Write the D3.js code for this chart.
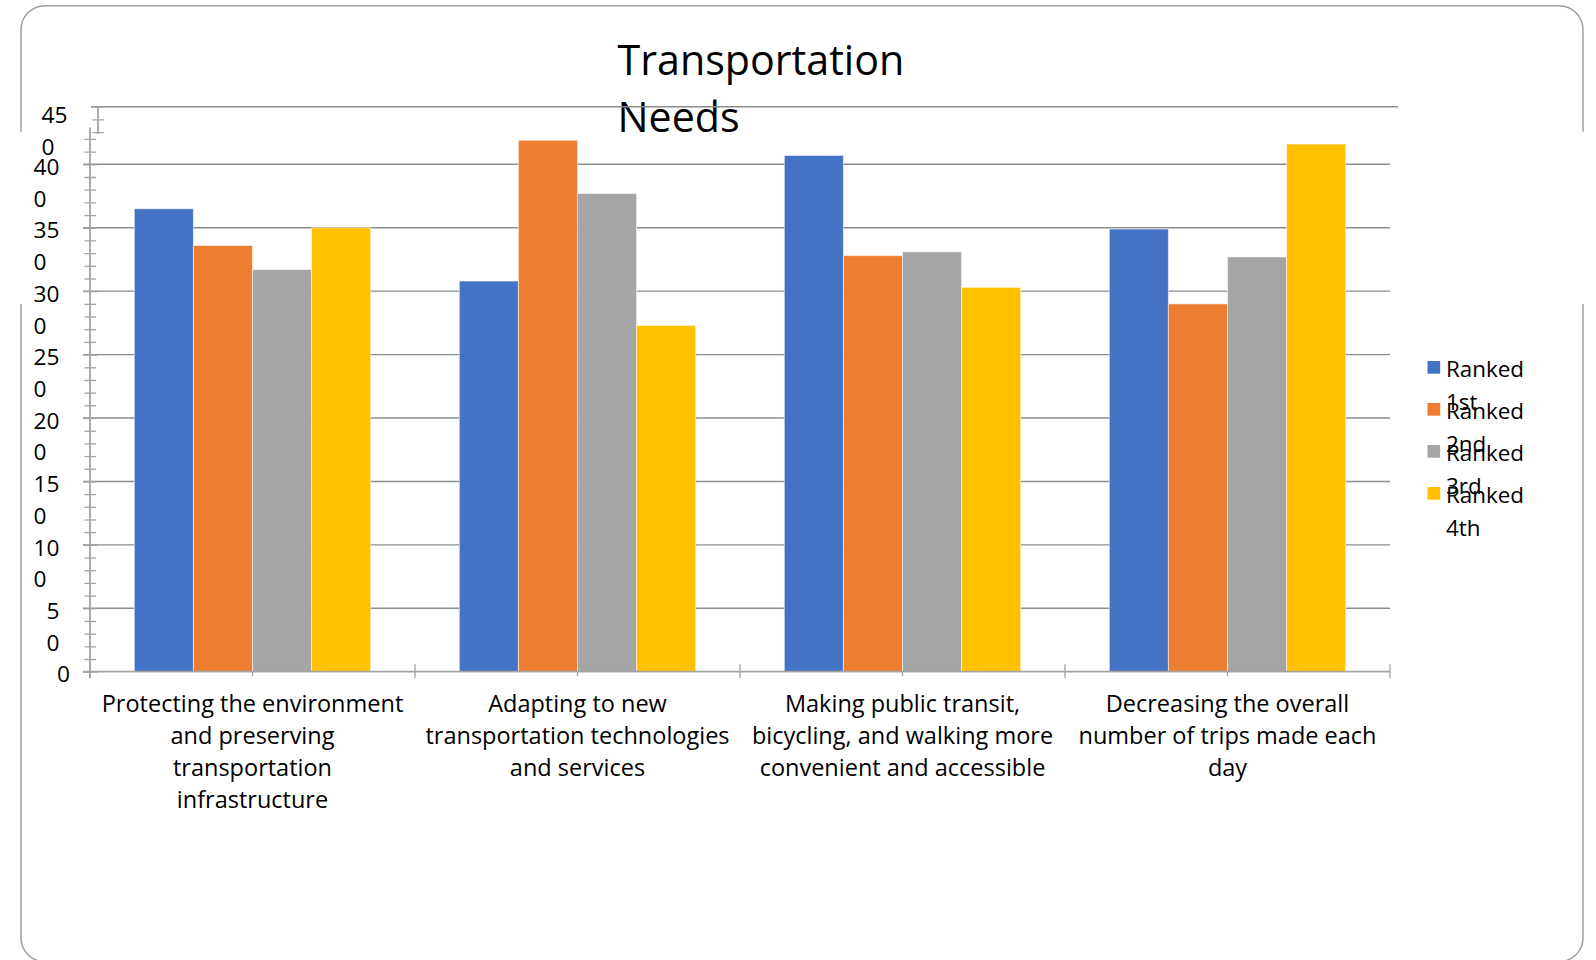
<!DOCTYPE html>
<html><head><meta charset="utf-8">
<script src="https://cdn.jsdelivr.net/npm/d3@7"></script>
<style>
html,body{margin:0;padding:0;background:#fff;}
svg{display:block;}
text{font-family:"Open Sans",sans-serif;fill:#000;}
</style>
</head><body>
<svg id="chart" width="1596" height="960"></svg>
<script>
// ---------- data ----------
const chartTitle = ["Transportation", "Needs"];
const categories = [
  "Protecting the environment\nand preserving\ntransportation\ninfrastructure",
  "Adapting to new\ntransportation technologies\nand services",
  "Making public transit,\nbicycling, and walking more\nconvenient and accessible",
  "Decreasing the overall\nnumber of trips made each\nday"
];
const seriesNames = ["Ranked 1st", "Ranked 2nd", "Ranked 3rd", "Ranked 4th"];
const ranked1st = [365, 308, 407, 349];
const ranked2nd = [336, 419, 328, 290];
const ranked3rd = [317, 377, 331, 327];
const ranked4th = [350, 273, 303, 416];
const yTickValues = [0, 50, 100, 150, 200, 250, 300, 350, 400, 450];
const yTickLabels = ["0", "50", "100", "150", "200", "250", "300", "350", "400", "450"];
const yMinorStep = 10;
const seriesColors = ["#4472C4", "#ED7D31", "#A5A5A5", "#FFC000"];

// ---------- layout ----------
const plot = {left: 90, right: 1390, top: 100.9, bottom: 671.7};
const gridColor = "#8c8c8c", axisColor = "#a3a3a3";
const topShift = {dx: 8, dy: 5.8};

const seriesValues = [ranked1st, ranked2nd, ranked3rd, ranked4th];
const table = categories.map((c, i) => ({
  category: c,
  values: seriesNames.map((s, j) => ({series: s, value: seriesValues[j][i], color: seriesColors[j]}))
}));
const maxV = d3.max(yTickValues);

const svg = d3.select("#chart");
const defs = svg.append("defs");
defs.append("clipPath").attr("id", "clipTop").append("path")
  .attr("d", "M0,0H1596V134H75V158H0Z");
defs.append("clipPath").attr("id", "clipMain").append("path")
  .attr("d", "M75,127.5H1596V960H0V158H75Z");
defs.append("clipPath").attr("id", "clipBorder").append("path")
  .attr("d", "M0,0H1596V131.7H0Z M0,304H1596V960H0Z");

const y = d3.scaleLinear().domain([0, maxV]).range([plot.bottom, plot.top]);
const x0 = d3.scaleBand().domain(categories).range([plot.left, plot.right]).paddingInner(0).paddingOuter(0);
const x1 = d3.scaleBand().domain(seriesNames).range([0, x0.bandwidth()]).paddingInner(0).paddingOuter(0.75);

// part: "top" = strip above the plot (title, top gridline, top of axis, top label); "main" = the rest
function drawChart(g, part) {
  const isTop = part === "top";

  if (isTop) {
    const t = g.append("text").attr("x", 609.5).attr("y", 69.2).style("font-size", "41.2px");
    chartTitle.forEach((line, i) => t.append("tspan").attr("x", 609.5).attr("dy", i ? 57 : 0).text(line));
  }

  // gridlines
  const gridVals = yTickValues.filter(v => v > 0 && (isTop ? v === maxV : v < maxV));
  g.append("g").selectAll("line").data(gridVals).join("line")
    .attr("x1", plot.left - 7).attr("x2", plot.right)
    .attr("y1", d => y(d)).attr("y2", d => y(d))
    .attr("stroke", gridColor).attr("stroke-width", 1.4);

  if (!isTop) {
    const groups = g.append("g").selectAll("g").data(table).join("g")
      .attr("transform", d => `translate(${x0(d.category)},0)`);
    groups.selectAll("rect").data(d => d.values).join("rect")
      .attr("x", d => x1(d.series)).attr("width", x1.bandwidth())
      .attr("y", d => y(d.value)).attr("height", d => y(0) - y(d.value))
      .attr("fill", d => d.color)
      .attr("stroke", "#ffffff").attr("stroke-opacity", 0.55).attr("stroke-width", 1);
  }

  // y axis (minor + major ticks crossing the axis)
  const minorVals = d3.range(0, maxV + 1, yMinorStep).filter(v => isTop ? v >= 420 : v <= 420);
  const ya = g.append("g").attr("transform", `translate(${plot.left},0)`)
    .call(d3.axisLeft(y).tickValues(minorVals).tickSizeOuter(0).tickFormat(""));
  ya.select(".domain").remove();
  ya.selectAll(".tick line")
    .attr("x1", d => yTickValues.includes(d) ? -7 : -5.5)
    .attr("x2", d => yTickValues.includes(d) ? 7 : 6)
    .attr("stroke", axisColor).attr("stroke-width", 1.3);
  ya.append("line").attr("x1", 0).attr("x2", 0)
    .attr("y1", isTop ? y(maxV) : y(430)).attr("y2", isTop ? y(415) : plot.bottom + 6.5)
    .attr("stroke", axisColor).attr("stroke-width", 1.8);

  // y tick labels (wrapped: last digit on a second line)
  yTickValues.forEach((v, i) => {
    if (isTop !== (v === maxV)) return;
    const label = yTickLabels[i];
    const lines = label.length > 1 ? [label.slice(0, -1), label.slice(-1)] : [label];
    const base = y(v) + (lines.length > 1 ? 10.7 : 10) + (v === maxV ? 5.7 : 0);
    const txt = g.append("text").style("font-size", "22.7px");
    const spans = lines.map((l, k) => txt.append("tspan").attr("y", base + k * 31.7).text(l));
    if (lines.length === 1) {
      txt.attr("text-anchor", "end"); spans[0].attr("x", 70);
    } else {
      const wMax = d3.max(spans, s => s.node().getComputedTextLength());
      spans.forEach(s => s.attr("x", 59.5 - wMax));
    }
  });

  if (isTop) return;

  // x axis
  const xa = g.append("g");
  xa.append("line").attr("x1", plot.left - 7).attr("x2", plot.right).attr("y1", y(0)).attr("y2", y(0))
    .attr("stroke", axisColor).attr("stroke-width", 1.8);
  const edges = categories.map(c => x0(c)).concat([plot.right]);
  xa.selectAll("line.edge").data(edges).join("line").attr("class", "edge")
    .attr("x1", d => d).attr("x2", d => d).attr("y1", y(0) - 7.5).attr("y2", y(0) + 6.5)
    .attr("stroke", axisColor).attr("stroke-width", 1.3);
  xa.selectAll("line.mid").data(categories).join("line").attr("class", "mid")
    .attr("x1", d => x0(d) + x0.bandwidth() / 2).attr("x2", d => x0(d) + x0.bandwidth() / 2)
    .attr("y1", y(0)).attr("y2", y(0) + 4.5)
    .attr("stroke", axisColor).attr("stroke-width", 1.3);

  // category labels
  categories.forEach(c => {
    const cx = x0(c) + x0.bandwidth() / 2;
    const txt = g.append("text").attr("text-anchor", "middle").style("font-size", "23.5px");
    c.split("\n").forEach((l, k) => txt.append("tspan").attr("x", cx).attr("y", 711.7 + k * 32.2).text(l));
  });

  // legend
  const lg = g.append("g").selectAll("g").data(seriesNames).join("g")
    .attr("transform", (d, i) => `translate(1427.5,${361 + 42 * i})`);
  lg.append("rect").attr("width", 12.7).attr("height", 12.7).attr("fill", (d, i) => seriesColors[i]);
  lg.each(function(d) {
    const txt = d3.select(this).append("text").style("font-size", "22.4px");
    d.split(" ").forEach((l, k) => txt.append("tspan").attr("x", 18.5).attr("y", 16.3 + k * 33).text(l));
  });
}

// main layer
drawChart(svg.append("g").attr("clip-path", "url(#clipMain)").append("g"), "main");
// shifted top strip
drawChart(svg.append("g").attr("clip-path", "url(#clipTop)").append("g")
  .attr("transform", `translate(${topShift.dx},${topShift.dy})`), "top");

// frame
svg.append("rect").attr("clip-path", "url(#clipBorder)")
  .attr("x", 21).attr("y", 5.7).attr("width", 1562).attr("height", 956).attr("rx", 24)
  .attr("fill", "none").attr("stroke", "#a0a0a0").attr("stroke-width", 1.5);
</script>
</body></html>
